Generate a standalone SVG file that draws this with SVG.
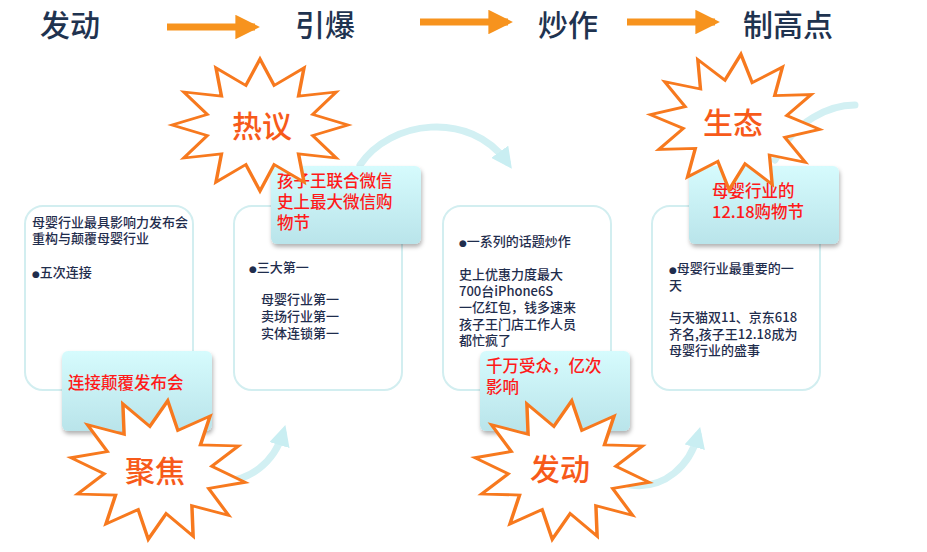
<svg xmlns="http://www.w3.org/2000/svg" width="927" height="552" viewBox="0 0 927 552">
<defs>
<linearGradient id="lg" x1="0" y1="0" x2="0" y2="1"><stop offset="0" stop-color="#d6fbfd"/><stop offset="1" stop-color="#b9e4ea"/></linearGradient>
<filter id="sh" x="-10%" y="-10%" width="120%" height="130%"><feDropShadow dx="1" dy="3" stdDeviation="2" flood-color="#000" flood-opacity="0.3"/></filter>
<polygon id="star" points="100,0 59.9,16.1 86.6,50 43.8,43.8 50,86.6 16.1,59.9 0,100 -16.1,59.9 -50,86.6 -43.8,43.8 -86.6,50 -59.9,16.1 -100,0 -59.9,-16.1 -86.6,-50 -43.8,-43.8 -50,-86.6 -16.1,-59.9 0,-100 16.1,-59.9 50,-86.6 43.8,-43.8 86.6,-50 59.9,-16.1"/>
<marker id="oa" viewBox="0 0 10 10" refX="8" refY="5" markerWidth="3.5" markerHeight="3.5" orient="auto"><path d="M0,0 L10,5 L0,10 z" fill="#f7931e"/></marker>
<marker id="ca" viewBox="0 0 10 10" refX="6" refY="5" markerWidth="3" markerHeight="3" orient="auto"><path d="M0,0 L10,5 L0,10 z" fill="#c9eef2"/></marker>
</defs>
<style>
.h{font-family:"Noto Sans CJK SC",sans-serif;font-size:30px;font-weight:500;fill:#1f3350}
.box{fill:#fff;stroke:#d2eef0;stroke-width:2}
.lab{fill:url(#lg);filter:url(#sh)}
.t{font-family:"Noto Sans CJK SC",sans-serif;font-size:13px;font-weight:500;fill:#1f2d4d}
.b{font-family:"DejaVu Sans",sans-serif;font-size:9px}
.r{font-family:"Noto Sans CJK SC",sans-serif;font-size:16.5px;font-weight:500;fill:#ff1a1a}
.st{fill:#fff;stroke:#f7791e;stroke-width:4;vector-effect:non-scaling-stroke}
.s{font-family:"Noto Sans CJK SC",sans-serif;font-size:30px;font-weight:500;fill:#f75a1a;text-anchor:middle}
.arc{fill:none;stroke:#d2f0f3;stroke-width:7;stroke-linecap:round}
</style>
<g id="header">
<text class="h" x="40" y="36">发动</text>
<text class="h" x="295" y="36">引爆</text>
<text class="h" x="538" y="36">炒作</text>
<text class="h" x="743" y="36">制高点</text>
</g>
<g id="connectors">
<line x1="167" y1="27" x2="255" y2="27" stroke="#f7931e" stroke-width="7" marker-end="url(#oa)"/>
<line x1="420" y1="22" x2="508" y2="22" stroke="#f7931e" stroke-width="7" marker-end="url(#oa)"/>
<line x1="627" y1="22" x2="715" y2="22" stroke="#f7931e" stroke-width="7" marker-end="url(#oa)"/>
<path class="arc" d="M360,165 C390,120 470,110 507,162" marker-end="url(#ca)"/>
<path class="arc" d="M215,480 C250,485 275,460 283,433" marker-end="url(#ca)"/>
<path class="arc" d="M630,485 C665,490 690,465 698,435" marker-end="url(#ca)"/>
<path class="arc" d="M775,160 C795,120 830,105 855,105"/>
</g>
<g id="box1"><rect class="box" x="25" y="206" width="168" height="184" rx="18"/>
<text class="t"><tspan x="32" y="227">母婴行业最具影响力发布会</tspan><tspan x="32" y="243">重构与颠覆母婴行业</tspan><tspan x="32" y="277"><tspan class="b">●</tspan>五次连接</tspan></text></g>
<g id="box2"><rect class="box" x="234" y="206" width="168" height="184" rx="18"/>
<text class="t"><tspan x="249" y="272"><tspan class="b">●</tspan>三大第一</tspan><tspan x="261" y="304">母婴行业第一</tspan><tspan x="261" y="321">卖场行业第一</tspan><tspan x="261" y="338">实体连锁第一</tspan></text></g>
<g id="box3"><rect class="box" x="443" y="206" width="168" height="184" rx="18"/>
<text class="t"><tspan x="459" y="246"><tspan class="b">●</tspan>一系列的话题炒作</tspan><tspan x="459" y="279">史上优惠力度最大</tspan><tspan x="459" y="295.5">700台iPhone6S</tspan><tspan x="459" y="312">一亿红包，钱多速来</tspan><tspan x="459" y="328.5">孩子王门店工作人员</tspan><tspan x="459" y="345">都忙疯了</tspan></text></g>
<g id="box4"><rect class="box" x="652" y="206" width="168" height="184" rx="18"/>
<text class="t"><tspan x="669" y="273"><tspan class="b">●</tspan>母婴行业最重要的一</tspan><tspan x="669" y="289.5">天</tspan><tspan x="669" y="322">与天猫双11、京东618</tspan><tspan x="669" y="338.5">齐名,孩子王12.18成为</tspan><tspan x="669" y="355">母婴行业的盛事</tspan></text></g>
<g id="label1"><rect class="lab" x="62" y="351" width="150" height="80" rx="6"/><text class="r" x="68" y="389">连接颠覆发布会</text></g>
<g id="label2"><rect class="lab" x="271" y="166" width="150" height="78" rx="6"/><text class="r"><tspan x="277" y="187">孩子王联合微信</tspan><tspan x="277" y="208">史上最大微信购</tspan><tspan x="277" y="229">物节</tspan></text></g>
<g id="label3"><rect class="lab" x="480" y="351" width="150" height="80" rx="6"/><text class="r"><tspan x="486" y="372">千万受众，亿次</tspan><tspan x="486" y="393">影响</tspan></text></g>
<g id="label4"><rect class="lab" x="689" y="166" width="150" height="78" rx="6"/><text class="r"><tspan x="712" y="197">母婴行业的</tspan><tspan x="712" y="218">12.18购物节</tspan></text></g>
<g id="star1"><use href="#star" class="st" transform="translate(260,125) scale(0.88,0.66)"/><text class="s" x="262" y="137">热议</text></g>
<g id="star2"><use href="#star" class="st" transform="translate(158,470) rotate(8) scale(0.88,0.7)"/><text class="s" x="155" y="482">聚焦</text></g>
<g id="star3"><use href="#star" class="st" transform="translate(562,470) rotate(8) scale(0.88,0.7)"/><text class="s" x="560" y="480">发动</text></g>
<g id="star4"><use href="#star" class="st" transform="translate(735,122) rotate(5) scale(0.85,0.68)"/><text class="s" x="733" y="134">生态</text></g>
</svg>
